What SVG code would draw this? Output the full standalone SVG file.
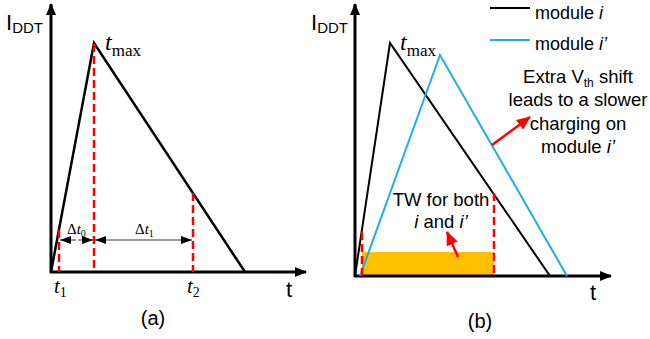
<svg xmlns="http://www.w3.org/2000/svg" width="650" height="339" viewBox="0 0 650 339">
<style>
.ax{stroke:#000;stroke-width:3;fill:none}
.k{stroke:#000;stroke-width:2.5;fill:none}
.kb{stroke:#000;stroke-width:2;fill:none}
.b{stroke:#1aafe6;stroke-width:2;fill:none}
.rd{stroke:#f00;stroke-width:2.5;fill:none;stroke-dasharray:8 4}
.dim{stroke:#000;stroke-width:0.8;fill:none}
.ra{stroke:#f00;stroke-width:2.5;fill:none}
.sans{font-family:"Liberation Sans",Arial,sans-serif;fill:#000}
.ser{font-family:"Liberation Serif","Times New Roman",serif;fill:#000}
</style>
<defs>
<marker id="ah" markerWidth="12" markerHeight="10" refX="11" refY="5" orient="auto" markerUnits="userSpaceOnUse"><path d="M0,0 L12,5 L0,10 Z" fill="#000"/></marker>
<marker id="dh" markerWidth="11" markerHeight="8" refX="11" refY="4" orient="auto" markerUnits="userSpaceOnUse"><path d="M0,0 L11,4 L0,8 Z" fill="#000"/></marker>
<marker id="rh" markerWidth="14" markerHeight="12" refX="13" refY="6" orient="auto" markerUnits="userSpaceOnUse"><path d="M0,0 L14,6 L0,12 Z" fill="#f00"/></marker>
</defs>

<g id="panel-a">
<g id="axes-a">
<line class="ax" x1="51" y1="273" x2="51" y2="4" marker-end="url(#ah)"/>
<line class="ax" x1="50" y1="272" x2="306" y2="272" marker-end="url(#ah)"/>
</g>
<g id="curve-a">
<polyline class="k" points="51,272 94,43 245,272"/>
</g>
<g id="markers-a">
<line class="rd" x1="94" y1="44" x2="94" y2="272"/>
<line class="rd" x1="59" y1="230" x2="59" y2="272"/>
<line class="rd" x1="193" y1="193" x2="193" y2="272"/>
</g>
<g id="dims-a">
<line class="dim" x1="76" y1="240" x2="60" y2="240" marker-end="url(#dh)"/>
<line class="dim" x1="78" y1="240" x2="93" y2="240" marker-end="url(#dh)"/>
<line class="dim" x1="140" y1="240" x2="95" y2="240" marker-end="url(#dh)"/>
<line class="dim" x1="140" y1="240" x2="192" y2="240" marker-end="url(#dh)"/>
<text class="ser" x="67" y="234" font-size="15">Δ<tspan font-style="italic">t</tspan><tspan font-size="10" dy="3">0</tspan></text>
<text class="ser" x="135" y="234" font-size="15">Δ<tspan font-style="italic">t</tspan><tspan font-size="10" dy="3">1</tspan></text>
</g>
<text class="sans" x="6" y="30" font-size="22">I<tspan font-size="15" dy="3">DDT</tspan></text>
<text class="ser" x="105" y="50" font-size="24" font-style="italic">t<tspan font-style="normal" font-size="17" dy="6">max</tspan></text>
<text class="ser" x="54" y="293" font-size="21" font-style="italic">t<tspan font-style="normal" font-size="14" dy="4">1</tspan></text>
<text class="ser" x="187" y="293" font-size="21" font-style="italic">t<tspan font-style="normal" font-size="14" dy="4">2</tspan></text>
<text class="sans" x="286" y="297" font-size="22">t</text>
<text class="sans" x="153" y="325" font-size="20" text-anchor="middle">(a)</text>
</g>

<g id="panel-b">
<rect id="tw-window" x="362" y="252" width="132" height="24" fill="#ffc000"/>
<g id="axes-b">
<line class="ax" x1="355" y1="277" x2="355" y2="4" marker-end="url(#ah)"/>
<line class="ax" x1="354" y1="276" x2="611" y2="276" marker-end="url(#ah)"/>
</g>
<g id="module-i">
<polyline class="kb" points="355,276 390,43 550,276"/>
</g>
<g id="module-i-prime">
<polyline class="b" points="360,276 440,55 567,276"/>
</g>
<g id="markers-b">
<line class="rd" x1="362" y1="232" x2="362" y2="276"/>
<line class="rd" x1="494" y1="193" x2="494" y2="276"/>
</g>
<g id="legend">
<line class="kb" x1="490" y1="8" x2="530" y2="8"/>
<text class="sans" x="535" y="19" font-size="18">module <tspan font-style="italic">i</tspan></text>
<line class="b" x1="490" y1="40" x2="530" y2="40"/>
<text class="sans" x="535" y="50" font-size="18">module <tspan font-style="italic">i’</tspan></text>
</g>
<g id="connectors">
<line class="ra" x1="492" y1="145" x2="530" y2="117" marker-end="url(#rh)"/>
<line class="ra" x1="458" y1="257" x2="447" y2="232" marker-end="url(#rh)"/>
</g>
<g id="annotation-shift">
<text class="sans" font-size="18.5" text-anchor="middle"><tspan x="578" y="83">Extra V<tspan font-size="12" dy="4">th</tspan><tspan dy="-4"> shift</tspan></tspan><tspan x="578" y="106">leads to a slower</tspan><tspan x="578" y="130">charging on</tspan><tspan x="578" y="153">module <tspan font-style="italic">i’</tspan></tspan></text>
</g>
<g id="annotation-tw">
<text class="sans" font-size="18.5" text-anchor="middle"><tspan x="441" y="206">TW for both</tspan><tspan x="441" y="228"><tspan font-style="italic">i</tspan> and <tspan font-style="italic">i’</tspan></tspan></text>
</g>
<text class="sans" x="311" y="30" font-size="22">I<tspan font-size="15" dy="3">DDT</tspan></text>
<text class="ser" x="400" y="50" font-size="24" font-style="italic">t<tspan font-style="normal" font-size="17" dy="6">max</tspan></text>
<text class="sans" x="590" y="300" font-size="22">t</text>
<text class="sans" x="480" y="328" font-size="20" text-anchor="middle">(b)</text>
</g>
</svg>
